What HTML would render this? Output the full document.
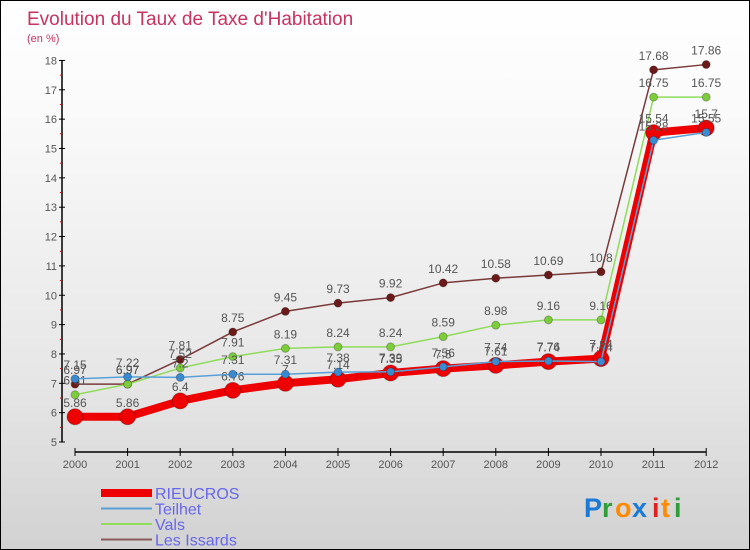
<!DOCTYPE html>
<html><head><meta charset="utf-8"><style>
body{margin:0}
#wrap{width:748px;height:548px;border:1px solid #000;background:linear-gradient(#fff,#fafafa 20%,#e6e6e6 70%,#d2d2d2);position:relative;font-family:"Liberation Sans",sans-serif;overflow:hidden}
svg text{font-family:"Liberation Sans",sans-serif}
</style></head><body>
<div id="wrap">
<svg id="c" width="748" height="548">
<text x="26" y="24" font-size="19" fill="#c8325f">Evolution du Taux de Taxe d'Habitation</text>
<text x="26" y="41" font-size="11" fill="#c8325f">(en %)</text>
<g id="axes"></g><g id="series"></g><g id="legend"></g>
<g font-size="27" font-weight="bold">
<text x="583" y="516" fill="#1a7ad6">P</text><text x="601" y="516" fill="#2e9e3a">r</text><text x="614" y="516" fill="#ff8a00">o</text><text x="631" y="516" fill="#1a7ad6">x</text><text x="651" y="516" fill="#e02020">i</text><text x="660" y="516" fill="#ff8a00">t</text><text x="673" y="516" fill="#2e9e3a">i</text>
</g>
</svg>
</div>
<script>
const years=[2000,2001,2002,2003,2004,2005,2006,2007,2008,2009,2010,2011,2012];
const yTicks=[5,6,7,8,9,10,11,12,13,14,15,16,17,18];
const rieucros=[5.86,5.86,6.4,6.76,7,7.14,7.35,7.5,7.61,7.74,7.84,15.54,15.7];
const teilhet=[7.15,7.22,7.2,7.31,7.31,7.38,7.39,7.56,7.74,7.76,7.74,15.28,15.55];
const vals=[6.61,6.97,7.52,7.91,8.19,8.24,8.24,8.59,8.98,9.16,9.16,16.75,16.75];
const issards=[6.97,6.97,7.81,8.75,9.45,9.73,9.92,10.42,10.58,10.69,10.8,17.68,17.86];
const NS="http://www.w3.org/2000/svg";
const X=i=>74+i*52.6;
const Y=v=>441-(v-5)*29.35;
function el(t,a,p){const e=document.createElementNS(NS,t);for(const k in a)e.setAttribute(k,a[k]);p.appendChild(e);return e;}
const ax=document.getElementById('axes');
const yl=el('line',{x1:61,y1:Y(18),x2:61,y2:Y(5),stroke:'#000','stroke-width':1.5},ax);


const xl=el('line',{x1:X(0),y1:451,x2:X(12),y2:451,stroke:'#000','stroke-width':1.5},ax);


yTicks.forEach(v=>{
  el('line',{x1:58,y1:Y(v),x2:64,y2:Y(v),stroke:'#000'},ax);
  if(v<18) el('line',{x1:59,y1:Y(v+0.5),x2:61,y2:Y(v+0.5),stroke:'#e00'},ax);
  const t=el('text',{x:56,y:Y(v)+4,'font-size':11,fill:'#555','text-anchor':'end'},ax);
  t.textContent=v;
  
  
});
years.forEach((y,i)=>{
  el('line',{x1:X(i),y1:447,x2:X(i),y2:455,stroke:'#000'},ax);
  const t=el('text',{x:X(i),y:467,'font-size':11,fill:'#555','text-anchor':'middle'},ax);
  t.textContent=y;
  
  
});
const sg=document.getElementById('series');
function draw(data,color,w,r,dot,name){
  const g=el('g',{},sg);
  
  
  el('polyline',{points:data.map((v,i)=>X(i)+','+Y(v)).join(' '),fill:'none',stroke:color,'stroke-width':w,'stroke-linejoin':'round'},g);
  data.forEach((v,i)=>{
    const c=el('circle',{cx:X(i),cy:Y(v),r:r,fill:dot,stroke:'#00000040'},g);
    
    
    const t=el('text',{x:X(i),y:Y(v)-10,'font-size':12,fill:'#555','text-anchor':'middle'},g);
    t.textContent=v;
  });
}
draw(issards,'#7a3a3a',1.5,4,'#6b1a1a','les-issards');
draw(vals,'#8fdc5a',1.5,4,'#7ccc3c','vals');
draw(rieucros,'#ee0000',8,8,'#ee0000','rieucros');
draw(teilhet,'#5aa0d8',1.5,4,'#3a8ad0','teilhet');
const lg=document.getElementById('legend');
const items=[['RIEUCROS','#ee0000',8],['Teilhet','#5aa0d8',2],['Vals','#8fdc5a',2],['Les Issards','#8a5a5a',2]];
items.forEach((it,i)=>{
  const y=492+i*15.5;
  const g=el('g',{},lg);
  
  
  el('line',{x1:100,y1:y,x2:151,y2:y,stroke:it[1],'stroke-width':it[2]},g);
  const t=el('text',{x:154,y:y+6,'font-size':16,fill:'#6666ee'},g);
  t.textContent=it[0];
});
</script>
</body></html>
